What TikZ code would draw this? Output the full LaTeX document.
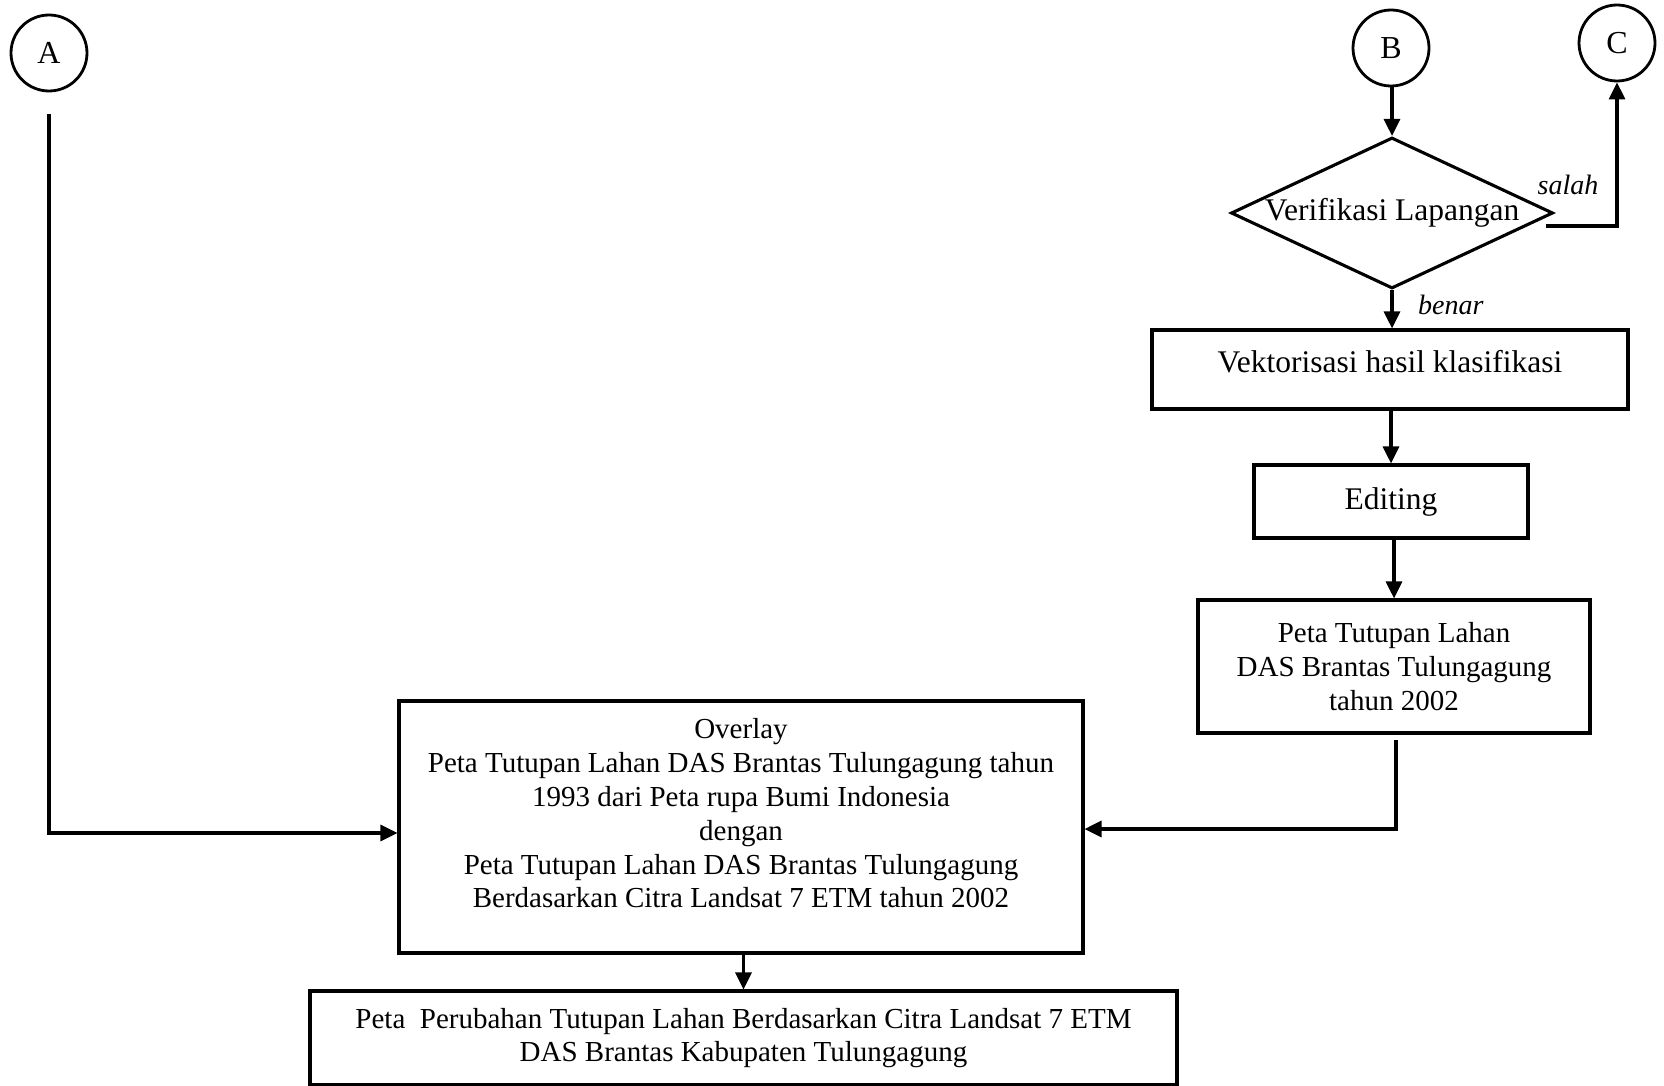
\documentclass[tikz,border=0pt]{standalone}
\usepackage{fontspec}
\setmainfont{Liberation Serif}
\usetikzlibrary{shapes.geometric,arrows.meta,calc}
\tikzset{
  box/.style={draw, line width=3.1pt, inner sep=0pt, align=center},
  arr/.style={line width=3.1pt, -{Triangle[length=17pt,width=16pt]}},
  circ/.style={draw, circle, line width=2.8pt, minimum size=76pt, inner sep=0pt,
    font=\fontsize{32}{32}\selectfont},
  lbl/.style={font=\fontsize{28}{28}\selectfont\itshape, inner sep=0pt},
  bigtxt/.style={font=\fontsize{31.5}{38}\selectfont},
  smtxt/.style={font=\fontsize{29}{33.8}\selectfont},
}
\begin{document}
\begin{tikzpicture}[x=1pt,y=-1pt]
\useasboundingbox[fill=white] (0,0) rectangle (1664,1086);

% connector circles
\node[circ] (A) at (49,53) {A};
\node[circ] (B) at (1391,48) {B};
\node[circ] (C) at (1617,43) {C};

% decision
\node[draw, diamond, line width=3.1pt, inner sep=0pt, minimum width=322pt, minimum height=151pt] (ver) at (1392,213) {};
\node[bigtxt, inner sep=0pt] (vert) at (ver.center) {Verifikasi Lapangan};

% process boxes
\node[box, bigtxt, minimum width=476pt, minimum height=79pt, text depth=17pt] (vek) at (1390,369.5) {Vektorisasi hasil klasifikasi};
\node[box, bigtxt, minimum width=274pt, minimum height=73pt] (edit) at (1391,501.5) {Editing};
\node[box, smtxt, minimum width=392pt, minimum height=133pt] (p02) at (1394,666.5)
  {Peta Tutupan Lahan\\DAS Brantas Tulungagung\\tahun 2002};

\node[box, minimum width=684pt, minimum height=252pt] (ov) at (741,827) {};
\node[smtxt, align=center, inner sep=0pt] (ovt) at (741,813.5)
  {Overlay\\Peta Tutupan Lahan DAS Brantas Tulungagung tahun\\1993 dari Peta rupa Bumi Indonesia\\dengan\\Peta Tutupan Lahan DAS Brantas Tulungagung\\Berdasarkan Citra Landsat 7 ETM tahun 2002};

\node[box, smtxt, minimum width=867pt, minimum height=94pt] (fin) at (743.5,1038)
  {Peta\ \ Perubahan Tutupan Lahan Berdasarkan Citra Landsat 7 ETM\\DAS Brantas Kabupaten Tulungagung};

% labels
\node[lbl] (salah) at (1568,185) {salah};
\node[lbl, anchor=west] (benar) at (1418,305) {benar};

% connectors
\draw[arr] (ver.north |- B.south) -- (ver.north);
\draw[arr] (ver.south) -- (ver.south |- vek.north);
\draw[arr] ($(ver.east)+(-9,13)$) -| (C.south);
\draw[arr] (edit.north |- vek.south) -- (edit.north);
\draw[arr] (p02.north |- edit.south) -- (p02.north);
\draw[arr] ($(p02.south)+(2,5)$) |- ($(ov.east)+(0,2)$);
\draw[arr] ($(A.south)+(0,22)$) |- ($(ov.west)+(0,6)$);
\draw[arr] (ov.south -| fin.north) -- (fin.north);
\end{tikzpicture}
\end{document}
